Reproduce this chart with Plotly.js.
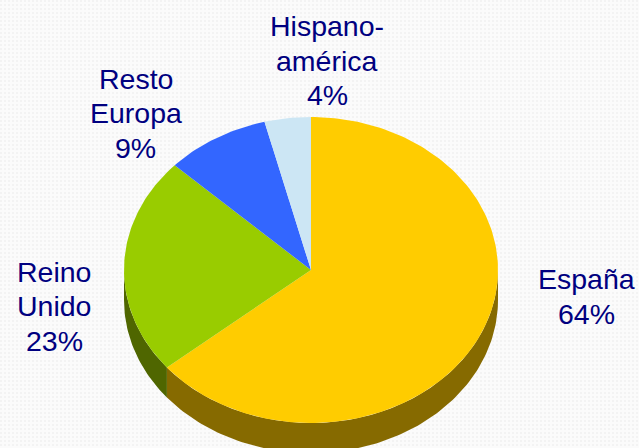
<!DOCTYPE html>
<html>
<head>
<meta charset="utf-8">
<script src="https://cdn.plot.ly/plotly-3.0.1.min.js"></script>
<style>
html,body{margin:0;padding:0;background-color:#fbfbfb;
background-image:radial-gradient(circle at 1px 1px,#f3f3f3 1px,transparent 1px);background-size:4px 4px;}
#chart{width:639px;height:448px;}
</style>
</head>
<body>
<div id="chart"></div>
<script>
// Share of origin, clockwise from twelve o'clock
const categories = ['España', 'Reino Unido', 'Resto Europa', 'Hispano-américa'];
const shares = [64, 23, 9, 4];
const labelLines = [['España', '64%'], ['Reino', 'Unido', '23%'], ['Resto', 'Europa', '9%'], ['Hispano-', 'américa', '4%']];
const topColors = ['#ffcc00', '#99cc00', '#3366ff', '#cce6f4'];
const wallColors = ['#866a00', '#4f6600', '#1a3380', '#667380'];
const labelAnchors = [[586, 296.5], [54, 306], [135.5, 113], [327, 60.5]];

// Tilted disc geometry in axis units
const cx = 311, cy = 270, rx = 187, ry = 153, depth = 30;
const lineHeight = 34.5;

const rimPoint = (pct, drop) => {
  const a = pct / 100 * 2 * Math.PI;
  return [cx + rx * Math.sin(a), cy - ry * Math.cos(a) + drop];
};

const arc = (from, to, drop) => {
  const n = Math.max(2, Math.ceil((to - from) * 3));
  const pts = [];
  for (let i = 0; i <= n; i++) pts.push(rimPoint(from + (to - from) * i / n, drop));
  return pts;
};

const traces = [];
const polygon = (pts, color, name) => traces.push({
  type: 'scatter', mode: 'lines', fill: 'toself', fillcolor: color,
  x: pts.map(p => p[0]), y: pts.map(p => p[1]),
  line: {width: 0, color: color}, hoverinfo: 'text', text: name, name: name, showlegend: false
});

// Side wall: only the front half of the rim (25%..75%) is visible
let start = 0;
const spans = shares.map(s => { const r = [start, start + s]; start += s; return r; });
spans.forEach((sp, i) => {
  const from = Math.max(sp[0], 25), to = Math.min(sp[1], 75);
  if (from >= to) return;
  polygon(arc(from, to, 0).concat(arc(from, to, depth).reverse()), wallColors[i], categories[i]);
});

// Top surface slices
spans.forEach((sp, i) => {
  polygon([[cx, cy]].concat(arc(sp[0], sp[1], 0)).concat([[cx, cy]]), topColors[i], categories[i]);
});

// One annotation per text line keeps the leading tighter than Plotly's default
const annotations = [];
labelAnchors.forEach((anchor, i) => {
  labelLines[i].forEach((line, k) => {
    annotations.push({
      x: anchor[0], y: anchor[1] + (k - (labelLines[i].length - 1) / 2) * lineHeight,
      xref: 'x', yref: 'y', text: line, showarrow: false,
      xanchor: 'center', yanchor: 'middle', align: 'center',
      font: {family: 'Liberation Sans, Arial, sans-serif', size: 28.5, color: '#000080'}
    });
  });
});

const hidden = {visible: false, fixedrange: true};
Plotly.newPlot('chart', traces, {
  width: 639, height: 448,
  margin: {l: 0, r: 0, t: 0, b: 0},
  paper_bgcolor: 'rgba(0,0,0,0)', plot_bgcolor: 'rgba(0,0,0,0)',
  xaxis: Object.assign({range: [0, 639]}, hidden),
  yaxis: Object.assign({range: [448, 0]}, hidden),
  annotations: annotations,
  showlegend: false
}, {displayModeBar: false, staticPlot: true});
</script>
</body>
</html>
